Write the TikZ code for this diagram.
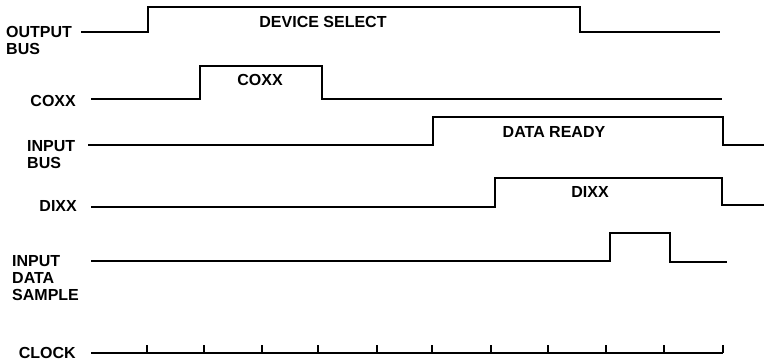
\documentclass[tikz,border=0pt]{standalone}
\usepackage{fontspec}
\setmainfont{Liberation Sans}
\begin{document}
\begin{tikzpicture}[x=1pt,y=-1pt,
  wave/.style={line width=1.8pt,line join=miter,line cap=butt},
  lbl/.style={font=\fontsize{16}{16.8}\selectfont\bfseries,inner sep=0pt,align=left},
  tag/.style={font=\fontsize{16}{17}\selectfont\bfseries,inner sep=0pt,anchor=base}]
\useasboundingbox (0,0) rectangle (769,362);
% labels
\node[lbl,anchor=base west] (lob) at (6,54) {OUTPUT\\BUS};
\node[lbl,anchor=base east] (lcoxx) at (76,106) {COXX};
\node[lbl,anchor=base west] (lib) at (27,168) {INPUT\\BUS};
\node[lbl,anchor=base east] (ldixx) at (77,211) {DIXX};
\node[lbl,anchor=base west] (lids) at (12,300) {INPUT\\DATA\\SAMPLE};
\node[lbl,anchor=base east] (lclk) at (76,358) {CLOCK};
% inner labels
\node[tag] (tds) at (323,27) {DEVICE SELECT};
\node[tag] (tcoxx) at (260,85) {COXX};
\node[tag] (tdr) at (554,137) {DATA READY};
\node[tag] (tdixx) at (590,197) {DIXX};
% waveforms
\draw[wave] (81,32) -- (148,32) -- (148,7) -- (580,7) -- (580,32) -- (720,32);
\draw[wave] (91,99) -- (200,99) -- (200,66) -- (322,66) -- (322,99) -- (722,99);
\draw[wave] (88,145) -- (433,145) -- (433,117) -- (723,117) -- (723,145) -- (764,145);
\draw[wave] (91,207) -- (495,207) -- (495,178) -- (722,178) -- (722,205) -- (764,205);
\draw[wave] (91,261) -- (610,261) -- (610,233) -- (670,233) -- (670,262) -- (727,262);
\draw[wave] (91,353) -- (723,353);
\foreach \t in {147,204,262,318,377,432,491,548,606,664,723}
  \draw[line width=1.8pt] (\t,353) -- (\t,345);
\end{tikzpicture}
\end{document}
